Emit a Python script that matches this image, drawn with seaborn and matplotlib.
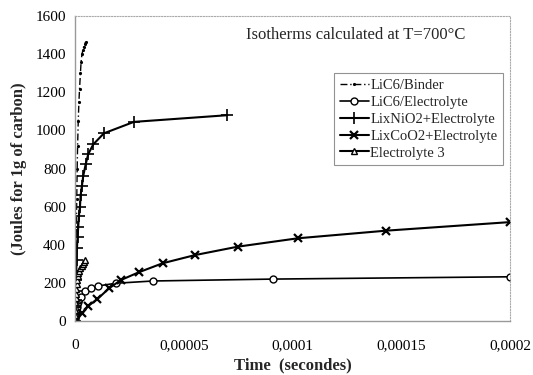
import matplotlib
matplotlib.use("Agg")
import matplotlib.pyplot as plt
import seaborn as sns
import pandas as pd
from matplotlib.ticker import MultipleLocator

sns.set_style("white")
plt.rcParams['font.family'] = ['Liberation Serif', 'DejaVu Serif']

# Data (time in seconds, Joules for 1 g of carbon)
binder_t = [0, 0.1e-6, 0.2e-6, 0.3e-6, 0.4e-6, 0.5e-6, 0.6e-6, 0.8e-6, 1.0e-6, 1.2e-6,
            1.5e-6, 1.8e-6, 2.1e-6, 2.5e-6, 2.8e-6, 3.2e-6, 3.6e-6, 4.0e-6, 4.5e-6, 4.9e-6]
binder_y = [0, 80, 160, 240, 320, 400, 480, 640, 800, 920,
            1050, 1150, 1220, 1300, 1360, 1400, 1420, 1440, 1455, 1465]

elec_t = [0, 0.1e-6, 0.2e-6, 0.3e-6, 0.4e-6, 0.5e-6, 0.6e-6, 0.8e-6, 1.0e-6, 1.2e-6,
          1.5e-6, 2.0e-6, 2.6e-6, 4.6e-6, 7.2e-6,
          10.7e-6, 18.7e-6, 35.9e-6, 91.2e-6, 200e-6]
elec_y = [0, 10, 20, 30, 40, 50, 60, 75, 90, 100,
          110, 118, 127, 159, 175,
          184, 198, 210, 220, 232]

ni_t = [0, 0.1e-6, 0.2e-6, 0.3e-6, 0.4e-6, 0.5e-6, 0.6e-6, 0.7e-6, 0.9e-6, 1.2e-6,
        1.5e-6, 1.8e-6, 2.3e-6, 2.6e-6,
        3.2e-6, 3.8e-6, 4.9e-6, 6.1e-6, 8.4e-6, 13.3e-6, 27.1e-6, 70e-6]
ni_y = [0, 40, 75, 110, 160, 215, 265, 320, 385, 442,
        495, 551, 600, 661,
        710, 762, 822, 876, 927, 985, 1045, 1080]

co_t = [0, 3.4e-6, 6.1e-6, 10.3e-6, 15.6e-6, 21.1e-6, 29.4e-6, 40.3e-6, 55.2e-6, 74.8e-6,
        102.4e-6, 143e-6, 200e-6]
co_y = [0, 40, 79, 115, 171, 215, 256, 303, 346, 390,
        434, 474, 519]

e3_t = [0, 0.05e-6, 0.1e-6, 0.2e-6, 0.3e-6, 0.4e-6, 0.6e-6, 0.8e-6, 1.0e-6, 1.3e-6,
        1.6e-6, 2.0e-6, 2.5e-6, 3.0e-6, 3.5e-6, 4.0e-6, 4.7e-6]
e3_y = [0, 30, 60, 100, 120, 140, 170, 195, 215, 235,
        250, 265, 280, 290, 300, 310, 318]

x_ticks = [0, 0.00005, 0.0001, 0.00015, 0.0002]
x_tick_labels = ["0", "0,00005", "0,0001", "0,00015", "0,0002"]

fig = plt.figure(figsize=(5.33, 3.75), dpi=100)
ax = fig.add_axes([0.1407, 0.144, 0.816, 0.813])

series = [
    ("LiC6/Binder", binder_t, binder_y, dict(marker='.', markersize=3, linestyle=(0, (5, 2, 1, 2)), linewidth=1.0)),
    ("LiC6/Electrolyte", elec_t, elec_y, dict(marker='o', markersize=5, markerfacecolor='white', markeredgewidth=1.0, linewidth=1.2)),
    ("LixNiO2+Electrolyte", ni_t, ni_y, dict(marker='+', markersize=8, markeredgewidth=1.2, linewidth=1.5)),
    ("LixCoO2+Electrolyte", co_t, co_y, dict(marker='x', markersize=6, markeredgewidth=1.6, linewidth=1.5)),
    ("Electrolyte 3", e3_t, e3_y, dict(marker='^', markersize=5, markerfacecolor='white', markeredgewidth=1.0, linewidth=1.5)),
]

for name, t, y, kw in series:
    df = pd.DataFrame({"t": t, "y": y})
    sns.lineplot(data=df, x="t", y="y", ax=ax, color='black', label=name,
                 sort=False, markeredgecolor='black', **kw)

ax.set_xlim(0, 0.0002)
ax.set_ylim(0, 1600)
ax.set_xticks(x_ticks)
ax.set_xticklabels(x_tick_labels)
ax.yaxis.set_major_locator(MultipleLocator(200))
ax.tick_params(axis='both', direction='inout', length=6, width=0.8, color='#999999',
               labelsize=11, labelcolor='black')
ax.tick_params(axis='x', pad=10)
for s in ['left', 'bottom']:
    ax.spines[s].set_color('#999999')
    ax.spines[s].set_linewidth(1.0)
for s in ['top', 'right']:
    ax.spines[s].set_color('#aaaaaa')
    ax.spines[s].set_linestyle((0, (1, 1.5)))
    ax.spines[s].set_linewidth(0.8)

ax.set_xlabel("Time  (secondes)", fontsize=12, fontweight='bold', labelpad=4)
ax.set_ylabel("(Joules for 1g of carbon)", fontsize=12, fontweight='bold', labelpad=6)

ax.text(0.393, 0.965, "Isotherms calculated at T=700°C", transform=ax.transAxes,
        fontsize=12, va='top', ha='left')

leg = ax.legend(loc='upper left', bbox_to_anchor=(0.595, 0.813), fontsize=10.5,
                frameon=True, fancybox=False, edgecolor='#777777', handlelength=2.0,
                handletextpad=0.1, borderpad=0.4, labelspacing=0.25, borderaxespad=0)
leg.get_frame().set_linewidth(0.8)

fig.savefig("out.png", dpi=100)
